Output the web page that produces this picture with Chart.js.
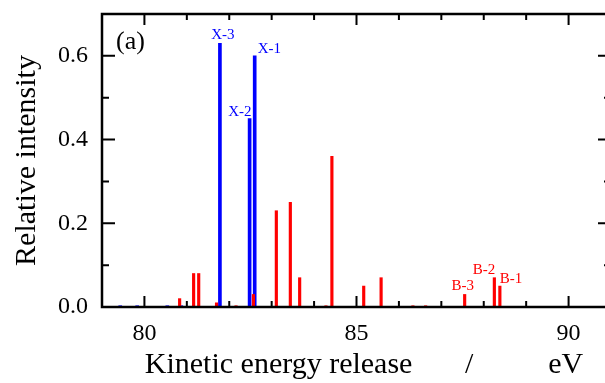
<!DOCTYPE html>
<html><head><meta charset="utf-8">
<script src="https://cdn.jsdelivr.net/npm/chart.js@4/dist/chart.umd.min.js"></script>
<style>html,body{margin:0;padding:0;overflow:hidden;background:#fff}canvas{display:block}</style>
</head><body>
<canvas id="c" width="613" height="383"></canvas>
<script>
// Data
const redEnergy = [80.83, 81.16, 81.28, 81.70, 82.16, 82.57, 83.11, 83.44, 83.66, 84.28, 84.42, 85.17, 85.58, 86.33, 86.63, 87.55, 88.25, 88.38];
const redIntensity = [0.02, 0.08, 0.08, 0.01, 0.003, 0.03, 0.23, 0.25, 0.07, 0.003, 0.36, 0.05, 0.07, 0.003, 0.003, 0.03, 0.07, 0.05];
const blueEnergy = [79.43, 79.83, 80.54, 80.87, 81.78, 82.48, 82.60];
const blueIntensity = [0.003, 0.003, 0.003, 0.003, 0.63, 0.45, 0.60];
const blueLabels = ['', '', '', '', 'X-3', 'X-2', 'X-1'];
const redLabels = ['', '', '', '', '', '', '', '', '', '', '', '', '', '', '', 'B-3', 'B-2', 'B-1'];
const xTickLabels = [80, 85, 90];
const yTickLabels = ['0.0', '0.2', '0.4', '0.6'];

const SERIF = '"Liberation Serif", "Times New Roman", serif';

// label placement styles: [dx, dy, align]
const labelStyle = {
  'X-3': [3, -9, 'center'], 'X-2': [2, -8, 'right'], 'X-1': [3, -8, 'left'],
  'B-3': [-2, -9, 'center'], 'B-2': [1, -9, 'right'], 'B-1': [0, -8, 'left']
};

const frame = {
  id: 'frame',
  afterDatasetsDraw(chart) {
    const {ctx, chartArea: a, scales: {x, y}} = chart;
    ctx.save();
    ctx.strokeStyle = '#000';
    ctx.lineWidth = 2;
    ctx.beginPath();
    for (let v = 79; v <= 91; v++) {
      const px = x.getPixelForValue(v);
      const L = v % 5 === 0 ? 11 : 6;
      ctx.moveTo(px, a.bottom); ctx.lineTo(px, a.bottom - L);
      ctx.moveTo(px, a.top); ctx.lineTo(px, a.top + L);
    }
    for (let k = 0; k <= 7; k++) {
      const py = y.getPixelForValue(k / 10);
      const L = k % 2 === 0 ? 13 : 7;
      ctx.moveTo(a.left, py); ctx.lineTo(a.left + L, py);
      ctx.moveTo(a.right, py); ctx.lineTo(a.right - L, py);
    }
    ctx.stroke();
    ctx.lineWidth = 2.5;
    ctx.strokeRect(a.left, a.top, a.right - a.left, a.bottom - a.top);

    // peak labels
    ctx.font = '15px ' + SERIF;
    ctx.textBaseline = 'alphabetic';
    const draw = (xs, ys, labs, col) => {
      ctx.fillStyle = col;
      labs.forEach((t, i) => {
        if (!t) return;
        const s = labelStyle[t];
        ctx.textAlign = s[2];
        ctx.fillText(t, x.getPixelForValue(xs[i]) + s[0], y.getPixelForValue(ys[i]) + s[1] + 5);
      });
    };
    draw(blueEnergy, blueIntensity, blueLabels, '#0000ff');
    draw(redEnergy, redIntensity, redLabels, '#ff0000');

    // panel tag
    ctx.fillStyle = '#000';
    ctx.font = '26px ' + SERIF;
    ctx.textAlign = 'left';
    ctx.textBaseline = 'middle';
    ctx.fillText('(a)', a.left + 14, a.top + 28);
    ctx.restore();
  }
};

new Chart(document.getElementById('c'), {
  type: 'bar',
  data: {
    datasets: [
      {data: redEnergy.map((e, i) => ({x: e, y: redIntensity[i]})), backgroundColor: '#ff0000', barThickness: 2.5, grouped: false},
      {data: blueEnergy.map((e, i) => ({x: e, y: blueIntensity[i]})), backgroundColor: '#0000ff', barThickness: 3, grouped: false}
    ]
  },
  options: {
    responsive: false,
    animation: false,
    devicePixelRatio: 1,
    layout: {padding: {top: 14, right: 2, left: 0, bottom: 0}},
    plugins: {legend: {display: false}, tooltip: {enabled: false}},
    scales: {
      x: {
        type: 'linear', min: 79, max: 91, offset: false,
        grid: {display: false, drawTicks: false, offset: false},
        border: {display: false},
        ticks: {
          stepSize: 1, autoSkip: false, maxRotation: 0, padding: 12,
          color: '#000', font: {family: SERIF, size: 24},
          callback: v => xTickLabels.includes(v) ? String(v) : null
        },
        title: {display: true, text: '  Kinetic energy release       /          eV', color: '#000', font: {family: SERIF, size: 30}, padding: {top: 0, bottom: 0}},
        afterFit: s => { s.height = 76; s.paddingLeft = 0; s.paddingRight = 0; }
      },
      y: {
        min: 0, max: 0.7,
        grid: {display: false, drawTicks: false},
        border: {display: false},
        ticks: {
          stepSize: 0.2, padding: 14, color: '#000', font: {family: SERIF, size: 24},
          callback: (v) => { const s = v.toFixed(1); return yTickLabels.includes(s) ? s : null; }
        },
        title: {display: true, text: 'Relative intensity', color: '#000', font: {family: SERIF, size: 30}, padding: {top: 9, bottom: 0}},
        afterFit: s => { s.width = 102; s.paddingTop = 0; s.paddingBottom = 0; }
      }
    }
  },
  plugins: [frame]
});
</script>
</body></html>
